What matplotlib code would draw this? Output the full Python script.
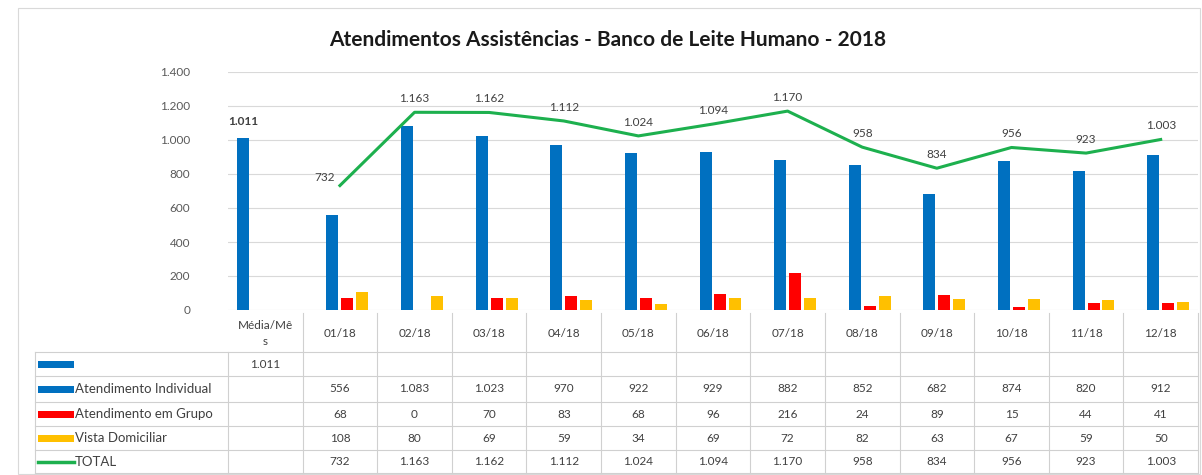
import numpy as np
import matplotlib
matplotlib.use("Agg")
import matplotlib.pyplot as plt
from matplotlib.lines import Line2D
from matplotlib.patches import Rectangle
import matplotlib.transforms as mtrans

plt.rcParams['font.family'] = ['Lato', 'DejaVu Sans']

# dados
categorias = ['Média/Mê\ns', '01/18', '02/18', '03/18', '04/18', '05/18', '06/18',
              '07/18', '08/18', '09/18', '10/18', '11/18', '12/18']
media = [1011] + [None] * 12
individual = [None, 556, 1083, 1023, 970, 922, 929, 882, 852, 682, 874, 820, 912]
grupo = [None, 68, 0, 70, 83, 68, 96, 216, 24, 89, 15, 44, 41]
visita = [None, 108, 80, 69, 59, 34, 69, 72, 82, 63, 67, 59, 50]
total = [None, 732, 1163, 1162, 1112, 1024, 1094, 1170, 958, 834, 956, 923, 1003]

nomes = ['', 'Atendimento Individual', 'Atendimento em Grupo', 'Vista Domiciliar', 'TOTAL']
cores = ['#0070C0', '#0070C0', '#FF0000', '#FFC000', '#1DB04E']
yticks = [0, 200, 400, 600, 800, 1000, 1200, 1400]


def fmt(v):
    if v is None:
        return ''
    return f"{v:,}".replace(",", ".")


def arr(lst):
    return np.array([np.nan if v is None else v for v in lst], dtype=float)


W, H = 1202, 475
fig = plt.figure(figsize=(W / 100, H / 100), dpi=100)
fig.patch.set_facecolor('white')

def fx(px):
    return px / W

def fy(py):
    return 1 - py / H

# borda do grafico
fig.add_artist(Rectangle((fx(18), fy(474)), fx(1200) - fx(18), fy(8) - fy(474),
                         transform=fig.transFigure, fill=False, ec='#D9D9D9', lw=0.8))

ax = fig.add_axes([fx(228), fy(310), fx(1198) - fx(228), fy(72) - fy(310)])
x = np.arange(len(categorias))
ax.set_xlim(-0.5, len(categorias) - 0.5)
ax.set_ylim(0, 1400)

# barras
passo = 0.2
largura = 0.16
series = [media, individual, grupo, visita]
for i, s in enumerate(series):
    ax.bar(x + (i - 1.5) * passo, arr(s), width=largura, color=cores[i], zorder=3)

# linha total
ax.plot(x, arr(total), color=cores[4], lw=2.2, zorder=4)
for i, v in enumerate(total):
    if v is None:
        continue
    if i == 1:
        ax.annotate(fmt(v), (x[i], v), xytext=(-4, 2), textcoords='offset points',
                    ha='right', va='bottom', fontsize=8.5, color='#404040')
    else:
        ax.annotate(fmt(v), (x[i], v), xytext=(0, 6), textcoords='offset points',
                    ha='center', va='bottom', fontsize=8.5, color='#404040')

# rotulo media
ax.annotate(fmt(media[0]), (x[0] - 1.5 * passo, media[0]), xytext=(0, 8),
            textcoords='offset points', ha='center', va='bottom', fontsize=8.5,
            fontweight='bold', color='#404040')

ax.set_yticks(yticks)
ax.set_yticklabels([fmt(t) for t in yticks], fontsize=8.5, color='#595959')
ax.tick_params(axis='y', length=0, pad=27)
ax.set_xticks([])
ax.grid(axis='y', color='#D9D9D9', lw=0.8, zorder=0)
for sp in ax.spines.values():
    sp.set_visible(False)

fig.text(fx(608), fy(40), 'Atendimentos Assistências - Banco de Leite Humano - 2018',
         ha='center', va='center', fontsize=15, fontweight='bold', color='#1a1a1a')

# tabela de dados
tb = mtrans.blended_transform_factory(ax.transData, fig.transFigure)
linha_cor = '#D0D0D0'
topo = 313
linhas_y = [352, 376, 402, 426, 450, 473]
esq = 35

# verticais
for k in range(len(categorias) + 1):
    xv = k - 0.5
    y0 = topo if k > 0 else linhas_y[0]
    fig.add_artist(Line2D([xv, xv], [fy(y0), fy(linhas_y[-1])], transform=tb,
                          color=linha_cor, lw=0.8))
fig.add_artist(Line2D([fx(esq), fx(esq)], [fy(linhas_y[0]), fy(linhas_y[-1])],
                      transform=fig.transFigure, color=linha_cor, lw=0.8))
# horizontais
for yy in linhas_y:
    fig.add_artist(Line2D([fx(esq), fx(1198)], [fy(yy), fy(yy)],
                          transform=fig.transFigure, color=linha_cor, lw=0.8))

# cabecalho
for i, c in enumerate(categorias):
    fig.text(x[i], fy((topo + linhas_y[0]) / 2 + 1), c, transform=tb, ha='center',
             va='center', fontsize=8.5, color='#404040', linespacing=1.5)

valores = [media, individual, grupo, visita, total]
for r, (nome, vals) in enumerate(zip(nomes, valores)):
    yc = (linhas_y[r] + linhas_y[r + 1]) / 2
    if r == 4:
        fig.add_artist(Line2D([fx(38), fx(74)], [fy(yc), fy(yc)],
                              transform=fig.transFigure, color=cores[r], lw=2.5))
    else:
        fig.add_artist(Rectangle((fx(38), fy(yc + 3.5)), fx(74) - fx(38), fy(yc - 3.5) - fy(yc + 3.5),
                                 transform=fig.transFigure, color=cores[r], lw=0))
    fig.text(fx(75), fy(yc), nome, ha='left', va='center', fontsize=9.5, color='#404040')
    for i, v in enumerate(vals):
        if v is None:
            continue
        fig.text(x[i], fy(yc), fmt(v), transform=tb, ha='center', va='center',
                 fontsize=8.5, color='#404040')

fig.savefig('out.png', dpi=100)
